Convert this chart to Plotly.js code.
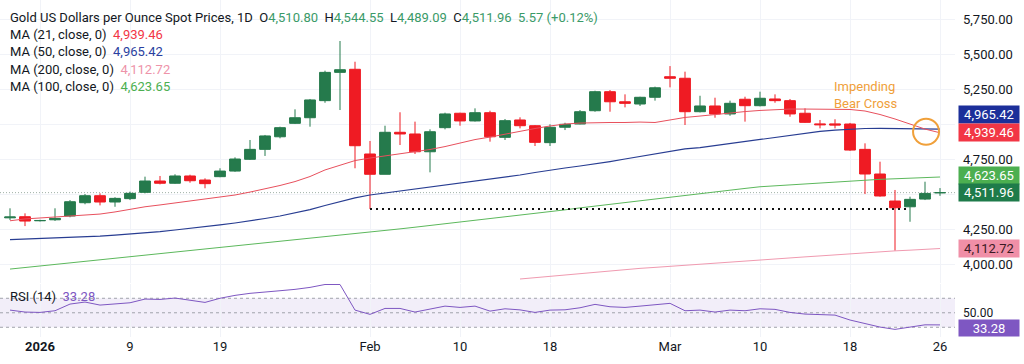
<!DOCTYPE html>
<html><head><meta charset="utf-8">
<script src="https://cdn.plot.ly/plotly-3.0.1.min.js"></script>
<style>html,body{margin:0;padding:0;background:#fff}#chart{width:1024px;height:364px}</style>
</head><body><div id="chart"></div>
<script>
const dates = ['2025-12-30','2025-12-31','2026-01-01','2026-01-02',
'2026-01-05','2026-01-06','2026-01-07','2026-01-08','2026-01-09',
'2026-01-12','2026-01-13','2026-01-14','2026-01-15','2026-01-16',
'2026-01-19','2026-01-20','2026-01-21','2026-01-22','2026-01-23',
'2026-01-26','2026-01-27','2026-01-28','2026-01-29','2026-01-30',
'2026-02-02','2026-02-03','2026-02-04','2026-02-05','2026-02-06',
'2026-02-09','2026-02-10','2026-02-11','2026-02-12','2026-02-13',
'2026-02-16','2026-02-17','2026-02-18','2026-02-19','2026-02-20',
'2026-02-23','2026-02-24','2026-02-25','2026-02-26','2026-02-27',
'2026-03-02','2026-03-03','2026-03-04','2026-03-05','2026-03-06',
'2026-03-09','2026-03-10','2026-03-11','2026-03-12','2026-03-13',
'2026-03-16','2026-03-17','2026-03-18','2026-03-19','2026-03-20',
'2026-03-23','2026-03-24','2026-03-25','2026-03-26'];

const openP = [4332,4340,4311,4318, 4345,4440,4490,4445,4469, 4514,4595,4579,4631,4602,
4626,4666,4750,4821,4911, 5007,5047,5169,5371,5393, 4788,4643,4943,4931,4804,
4976,5079,5024,5083,4907, 5031,4990,4869,4979,5002, 5097,5233,5161,5145,5193,
5340,5329,5090,5131,5074, 5179,5133,5181,5169,5079, 5003,5003,5002,4821,4645,
4452,4411,4466,4510.80];
const highP = [4400,4364,4318,4400, 4459,4502,4507,4479,4519, 4626,4631,4643,4640,4614,
4686,4764,4888,4924,4983, 5107,5181,5383,5595,5447, 4881,4990,5086,5019,4964,
5083,5083,5114,5097,5038, 5050,4995,5000,5011,5102, 5240,5245,5214,5197,5269,
5416,5376,5204,5190,5169, 5197,5233,5214,5181,5114, 5031,5036,5010,4864,4733,
4531,4483,4590,4544.55];
const lowP = [4316,4273,4306,4310, 4336,4429,4421,4411,4459, 4507,4571,4575,4583,4543,
4622,4661,4745,4774,4900, 5002,4983,5154,5102,4686, 4395,4643,4852,4788,4657,
4964,4990,5020,4876,4888, 4971,4845,4845,4959,5000, 5090,5090,5121,5131,5169,
5264,4995,5085,5047,5061, 5019,5128,5154,5054,5010, 4971,4971,4810,4502,4483,
4097,4304,4459,4489.09];
const closeP = [4338,4309,4313,4328, 4447,4490,4445,4471,4507, 4595,4579,4631,4597,4576,
4666,4752,4821,4917,4976, 5047,5174,5371,5390,4847, 4643,4943,4931,4804,4947,
5074,5024,5083,4911,5026, 4990,4871,4979,5000,5090, 5233,5161,5150,5193,5261,
5329,5090,5131,5074,5150, 5133,5186,5169,5074,5014, 4997,4995,4816,4645,4488,
4404,4464,4506.39,4511.96];

const ma21 = [4311,4324,4331,4338,4345,4352,4359,4374,4395,4411,4424,4438,4449,4463,
4477,4495,4516,4538,4563,4591,4627,4674,4709,4741,4759,4774,4788,4802,4820,4841,
4866,4891,4909,4931,4952,4970,4988,5002,5009,5013,5013,5013,5016,5013,5031,5049,
5059,5070,5084,5091,5099,5106,5109,5109,5109,5109,5106,5095,5070,5038,5002,4966,4939.46];
const ma50 = [4177,4181,4184,4188,4191,4195,4202,4209,4216,4224,4234,4245,4256,4266,
4281,4295,4309,4327,4345,4366,4391,4420,4449,4474,4495,4509,4524,4538,4552,4566,
4581,4595,4609,4624,4638,4656,4674,4688,4702,4716,4734,4752,4770,4788,4809,4824,
4834,4849,4863,4877,4891,4909,4924,4938,4949,4959,4966,4970,4971,4970,4969,4966,4965.42];
const ma100 = [3966,3977,3988,3998,4009,4020,4031,4042,4053,4063,4074,4085,4096,4107,
4117,4128,4139,4150,4161,4171,4182,4193,4205,4217,4229,4241,4253,4265,4277,4289,
4301,4314,4326,4339,4351,4364,4376,4389,4403,4416,4429,4442,4456,4469,4482,4495,
4507,4519,4530,4542,4554,4561,4567,4574,4580,4587,4594,4600,4607,4611,4615,4620,4623.65];
const ma200 = [null,null,null,null,null,null,null,null,null,null,null,null,null,null,
null,null,null,null,null,null,null,null,null,null,null,null,null,null,null,null,
null,null,null,null,3895,3905,3914,3924,3933,3943,3952,3962,3971,3978,3986,3993,
4001,4008,4016,4023,4031,4038,4046,4053,4060,4068,4075,4082,4090,4096,4101,4107,4112.72];
const rsi = [53.7,51,50.5,52.8,62,64.8,60.6,62,63.8,68.9,68.4,70.3,67.5,64.3,
70,74,76.8,79,80.4,82.3,85,89,89,53.7,47.8,56,56,51,54.7,59.2,
57.4,59.2,52.3,55.5,54,50.5,53.7,54.1,56.9,61.6,58.3,57.4,59.2,61,63,52.8,
53.7,51,53.7,52.8,55.5,54.7,50.5,48.2,47.2,46.8,40,35.4,30.3,27.1,30.3,33.4,33.28];

const tickDates = ['2026-01-01','2026-01-09','2026-01-19','2026-02-02','2026-02-10','2026-02-18','2026-03-02','2026-03-10','2026-03-18','2026-03-26'];
const tickLabels = ['<b>2026</b>','9','19','Feb','10','18','Mar','10','18','26'];
const priceTicks = [4000,4250,4500,4750,5000,5250,5500,5750];
const hiddenTicks = [4500,5000];
const supportLevel = 4395;
const supportStart = '2026-02-02', supportEnd = '2026-03-23';
const crossDate = '2026-03-25', crossLevel = 4947;
const noteDate = '2026-03-19', noteLevel = 5209;

const n = dates.length;
const last = a => a[a.length-1];
const fmt = v => v.toLocaleString('en-US',{minimumFractionDigits:2,maximumFractionDigits:2});
const FONT = 'Roboto, "Noto Sans", sans-serif';
const FS = 13;
const TXT = '#131722';
const UP = '#257a4c', DOWN = '#ef1b23';
const C21 = '#e8505d', C50 = '#283d92', C100 = '#5cb85c', C200 = '#f09ab0', CRSI = '#7e57c2';

const traces = [
 {type:'scatter',mode:'lines',x:dates,y:ma200,line:{color:C200,width:1},xaxis:'x',yaxis:'y',hoverinfo:'skip'},
 {type:'scatter',mode:'lines',x:dates,y:ma100,line:{color:C100,width:1},xaxis:'x',yaxis:'y',hoverinfo:'skip'},
 {type:'scatter',mode:'lines',x:dates,y:ma50,line:{color:C50,width:1.2},xaxis:'x',yaxis:'y',hoverinfo:'skip'},
 {type:'scatter',mode:'lines',x:dates,y:ma21,line:{color:C21,width:1},xaxis:'x',yaxis:'y',hoverinfo:'skip'},
 {type:'candlestick',x:dates,open:openP,high:highP,low:lowP,close:closeP,xaxis:'x',yaxis:'y',
  increasing:{line:{color:UP,width:1},fillcolor:UP},decreasing:{line:{color:DOWN,width:1},fillcolor:DOWN},
  whiskerwidth:0,hoverinfo:'skip'},
 {type:'scatter',mode:'lines',x:dates,y:rsi,line:{color:CRSI,width:1},xaxis:'x',yaxis:'y2',hoverinfo:'skip'}
];

const idx = d => dates.indexOf(d);
const shapes = [
 {type:'rect',xref:'paper',x0:0,x1:1,yref:'y2',y0:30,y1:70,fillcolor:'rgba(126,87,194,0.10)',line:{width:0},layer:'below'},
 ...[70,50,30].map(v=>({type:'line',xref:'paper',x0:0,x1:1,yref:'y2',y0:v,y1:v,line:{color:'#a0a3ab',width:1,dash:'3px,3px'},layer:'below'})),
 {type:'line',xref:'paper',x0:0,x1:1,yref:'y',y0:last(closeP),y1:last(closeP),line:{color:'#9fb0a6',width:1,dash:'1px,2px'},layer:'below'},
 {type:'line',xref:'x',x0:idx(supportStart),x1:idx(supportEnd)+0.75,yref:'y',y0:supportLevel,y1:supportLevel,line:{color:'#111',width:2,dash:'2px,4px'}},
 {type:'circle',xref:'x',yref:'y',xsizemode:'pixel',ysizemode:'pixel',xanchor:idx(crossDate)+0.07,yanchor:crossLevel,x0:-13,x1:13,y0:-13,y1:13,line:{color:'#f0a03a',width:2}}
];

const ann = [];
const leftTxt = (text, yshift) => ann.push({xref:'paper',yref:'paper',x:0,y:1,xanchor:'left',yanchor:'middle',xshift:8,yshift:yshift,text:text,showarrow:false,align:'left',font:{family:FONT,size:FS,color:TXT}});
const G = '#3a9a68';
const span = (c,t) => `<span style="color:${c}">${t}</span>`;
const chg = closeP[n-1]-closeP[n-2];
leftTxt(`Gold US Dollars per Ounce Spot Prices, 1D&nbsp;&nbsp;O${span(G,fmt(openP[n-1]))}&nbsp;&nbsp;H${span(G,fmt(highP[n-1]))}&nbsp;&nbsp;L${span(G,fmt(lowP[n-1]))}&nbsp;&nbsp;C${span(G,fmt(closeP[n-1]))}&nbsp;&nbsp;${span(G,chg.toFixed(2)+' (+'+(chg/closeP[n-2]*100).toFixed(2)+'%)')}`, -17);
leftTxt(`MA (21, close, 0)&nbsp;&nbsp;${span('#f23645',fmt(last(ma21)))}`, -34);
leftTxt(`MA (50, close, 0)&nbsp;&nbsp;${span('#2a3f9f',fmt(last(ma50)))}`, -51);
leftTxt(`MA (200, close, 0)&nbsp;&nbsp;${span('#ee93a9',fmt(last(ma200)))}`, -69);
leftTxt(`MA (100, close, 0)&nbsp;&nbsp;${span('#4caf50',fmt(last(ma100)))}`, -86);
ann.push({xref:'paper',yref:'paper',x:0,y:1,xanchor:'left',yanchor:'middle',xshift:8,yshift:-296,text:`RSI (14)&nbsp;&nbsp;${span(CRSI,last(rsi).toFixed(2))}`,showarrow:false,font:{family:FONT,size:FS,color:TXT}});

const box = (v, yref, bg, fc, ysh, h) => ann.push({xref:'paper',yref:yref,x:1,y:v,xanchor:'left',yanchor:'middle',xshift:3,yshift:ysh,
  text:fmt(v),showarrow:false,bgcolor:bg,width:58,height:h||15,borderpad:1,align:'center',font:{family:FONT,size:FS,color:fc}});
box(last(ma50),'y','#1c2f9a','#ffffff',15);
box(last(ma21),'y','#f23645','#ffffff',0);
box(last(ma100),'y','#4caf50','#ffffff',2);
box(last(closeP),'y','#1e7b4a','#ffffff',0);
box(last(ma200),'y','#f08fa7','#3a1a24',0);
box(last(rsi),'y2','#7e57c2','#ffffff',-3,14);

ann.push({xref:'x',yref:'y',x:idx(noteDate)+0.07,y:noteLevel,text:'Impending<br>Bear Cross',showarrow:false,align:'left',
  font:{family:FONT,size:13,color:'#f0a03a'}});

const layout = {
 width:1024,height:364,margin:{l:0,r:69,t:0,b:27},paper_bgcolor:'#fff',plot_bgcolor:'#fff',
 showlegend:false,font:{family:FONT,color:TXT,size:FS},
 boxgap:0.2,boxgroupgap:0.1,
 xaxis:{type:'category',range:[-0.667,63],anchor:'y2',tickvals:tickDates,ticktext:tickLabels,
   showgrid:true,gridcolor:'#f1f3f8',ticks:'',showline:false,zeroline:false,rangeslider:{visible:false},
   tickfont:{size:13,color:TXT},fixedrange:true},
 yaxis:{domain:[0.1602,1],range:[3866.4,5887.9],side:'right',anchor:'x',tickvals:priceTicks,
   ticktext:priceTicks.map(v=>hiddenTicks.includes(v)?'':fmt(v)),showgrid:true,gridcolor:'#f1f3f8',
   ticks:'',showline:false,zeroline:false,ticklabelstandoff:7,tickfont:{size:FS,color:TXT}},
 yaxis2:{domain:[0,0.1573],range:[16.6,89.7],side:'right',anchor:'x',tickvals:[50],ticktext:['50.00'],
   showgrid:false,ticks:'',showline:false,zeroline:false,ticklabelstandoff:7,tickfont:{size:12,color:TXT}},
 shapes:shapes,annotations:ann
};
Plotly.newPlot('chart',traces,layout,{staticPlot:true,displayModeBar:false});
</script></body></html>
